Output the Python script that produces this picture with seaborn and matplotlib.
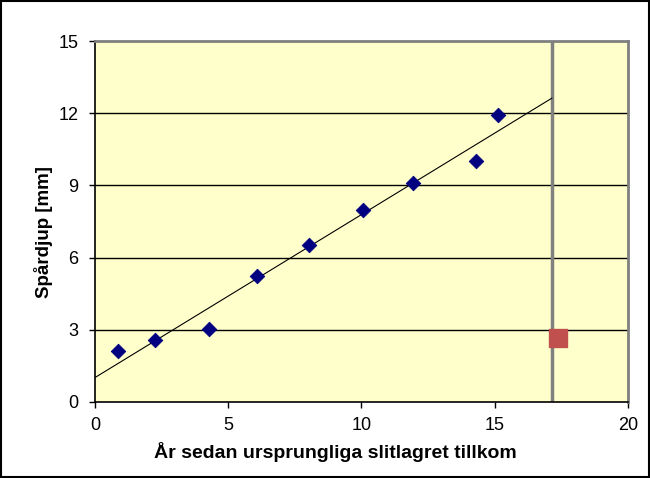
import numpy as np
import pandas as pd
import seaborn as sns
import matplotlib.pyplot as plt
from matplotlib.patches import Rectangle

# data
years = [0.88, 2.27, 4.28, 6.08, 8.04, 10.07, 11.92, 14.31, 15.12]
depth = [2.13, 2.59, 3.03, 5.24, 6.53, 7.96, 9.12, 10.02, 11.93]
now_year = [17.37]
now_depth = [2.68]
cutoff = 17.17

sns.set_style("white")
plt.rcParams['font.family'] = ['Liberation Sans', 'DejaVu Sans']
plt.rcParams['text.color'] = 'black'
plt.rcParams['axes.labelcolor'] = 'black'

fig = plt.figure(figsize=(6.5, 4.78), dpi=100)
ax = fig.add_axes([0.146, 0.159, 0.82, 0.755])
ax.set_facecolor('#FFFFCC')

df = pd.DataFrame({'x': years, 'y': depth})

# linear trend line up to the cutoff
k, m = np.polyfit(years, depth, 1)
tx = np.array([0, cutoff - 0.02])
ax.plot(tx, k * tx + m, color='black', lw=0.8, zorder=3)

for yv in [3, 6, 9, 12]:
    ax.axhline(yv, color='black', lw=1, zorder=1)
ax.axvline(cutoff, color='#808080', lw=2.5, zorder=2)

sns.scatterplot(data=df, x='x', y='y', marker='D', s=55, color='#000080',
                edgecolor='#000080', ax=ax, zorder=4)
sns.scatterplot(x=now_year, y=now_depth, marker='s', s=150, color='#C0504D',
                edgecolor='#C0504D', ax=ax, zorder=5)

ax.set_xlim(0, 20)
ax.set_ylim(0, 15)
ax.set_xticks([0, 5, 10, 15, 20])
ax.set_yticks([0, 3, 6, 9, 12, 15])
ax.tick_params(axis='both', direction='out', length=4.5, width=1, color='black',
               labelcolor='black', labelsize=13, bottom=True, left=True)
ax.tick_params(axis='y', pad=7.5)
ax.tick_params(axis='x', pad=6)
for s in ['top', 'right']:
    ax.spines[s].set_color('#808080')
    ax.spines[s].set_linewidth(2)
for s in ['left', 'bottom']:
    ax.spines[s].set_color('black')
    ax.spines[s].set_linewidth(1.2)

ax.set_xlabel('År sedan ursprungliga slitlagret tillkom', fontsize=14,
              fontweight='bold', labelpad=6)
ax.set_ylabel('Spårdjup [mm]', fontsize=13.5, fontweight='bold', labelpad=4)
ax.xaxis.label.set_x(0.452)
ax.yaxis.label.set_y(0.47)

fig.patches.append(Rectangle((0.002, 0.002), 0.996, 0.996, transform=fig.transFigure,
                             fill=False, edgecolor='black', lw=1.5))

fig.savefig('out.png', dpi=100)
